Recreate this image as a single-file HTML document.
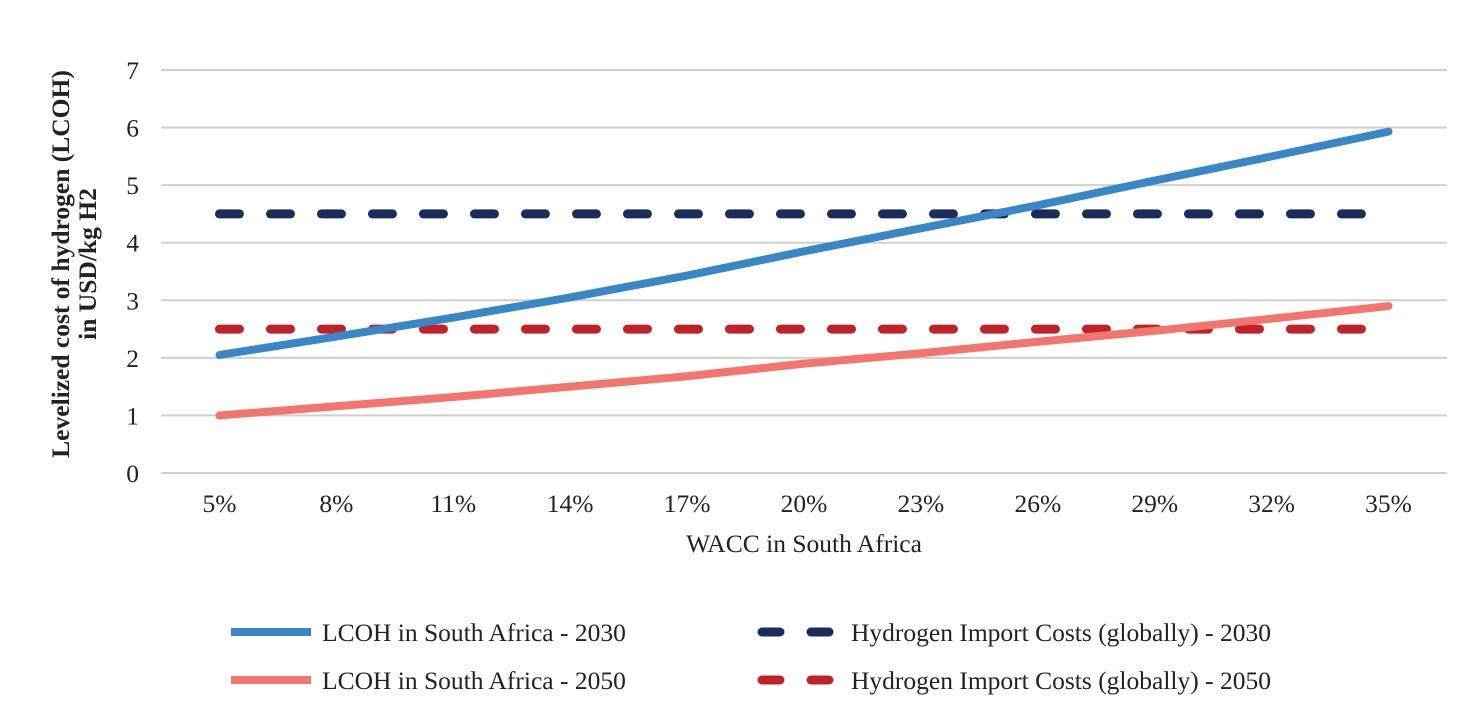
<!DOCTYPE html>
<html><head><meta charset="utf-8"><style>
html,body{margin:0;padding:0;background:#fff;}
svg text{font-family:"Liberation Serif",serif;fill:#222;}
</style></head><body>
<svg id="chart" width="1480" height="723" viewBox="0 0 1480 723">
<g id="grid"></g>
<g id="yt"></g>
<g id="xt"></g>
<g id="series"></g>
<text transform="translate(69,264) rotate(-90)" text-anchor="middle" font-size="25.5" font-weight="bold"><tspan x="0" dy="0">Levelized cost of hydrogen (LCOH)</tspan><tspan x="0" dy="27">in USD/kg H2</tspan></text>
<text x="804" y="552" text-anchor="middle" font-size="25.5">WACC in South Africa</text>
<g>
<g><line x1="231" y1="632" x2="311" y2="632" stroke="#3a87c8" stroke-width="8"/><text x="322" y="641" font-size="25.5">LCOH in South Africa - 2030</text></g>
<g><line x1="231" y1="680" x2="311" y2="680" stroke="#f2766e" stroke-width="8"/><text x="322" y="689" font-size="25.5">LCOH in South Africa - 2050</text></g>
<g><line x1="762" y1="632" x2="838" y2="632" stroke="#1a2d5a" stroke-width="9" stroke-dasharray="18 31" stroke-linecap="round"/><text x="851" y="641" font-size="25.5">Hydrogen Import Costs (globally) - 2030</text></g>
<g><line x1="762" y1="680" x2="838" y2="680" stroke="#c0222a" stroke-width="9" stroke-dasharray="18 31" stroke-linecap="round"/><text x="851" y="689" font-size="25.5">Hydrogen Import Costs (globally) - 2050</text></g>
</g>
</svg>
<script>
const categories=["5%","8%","11%","14%","17%","20%","23%","26%","29%","32%","35%"];
const yTicks=[0,1,2,3,4,5,6,7];
const lcoh2030=[2.05,2.37,2.7,3.05,3.43,3.85,4.25,4.65,5.08,5.5,5.93];
const lcoh2050=[1.0,1.16,1.32,1.5,1.68,1.9,2.08,2.28,2.47,2.68,2.9];
const import2030=[4.5,4.5,4.5,4.5,4.5,4.5,4.5,4.5,4.5,4.5,4.5];
const import2050=[2.5,2.5,2.5,2.5,2.5,2.5,2.5,2.5,2.5,2.5,2.5];
const NS="http://www.w3.org/2000/svg";
const left=161,right=1447,y0=473,y7=70;
const band=(right-left)/categories.length;
const xs=i=>left+band*(i+0.5);
const ys=v=>y0-(y0-y7)*v/7;
function mk(tag,attrs,parent){const e=document.createElementNS(NS,tag);for(const k in attrs)e.setAttribute(k,attrs[k]);parent.appendChild(e);return e;}
const grid=document.getElementById('grid'),yt=document.getElementById('yt'),xt=document.getElementById('xt'),ser=document.getElementById('series');
yTicks.forEach(v=>{
 const l=mk('line',{x1:left,x2:right,y1:ys(v),y2:ys(v),stroke:'#d0d0d0','stroke-width':2},grid);
 
 
 const t=mk('text',{x:139,y:ys(v)+9,'text-anchor':'end','font-size':25.5},yt);t.textContent=v;
 
 
});
categories.forEach((c,i)=>{
 const t=mk('text',{x:xs(i),y:512,'text-anchor':'middle','font-size':25.5},xt);t.textContent=c;
 
 
});
function series(vals,color,dashed,name){
 const d=vals.map((v,i)=>(i?'L':'M')+xs(i)+' '+ys(v)).join(' ');
 const a={d:d,fill:'none',stroke:color,'stroke-width':dashed?9:8,'stroke-linecap':'round','stroke-linejoin':'round'};
 if(dashed)a['stroke-dasharray']='20 31';
 const p=mk('path',a,ser);
 
 
}
series(import2030,'#1a2d5a',true,'line-import-2030');
series(import2050,'#c0222a',true,'line-import-2050');
series(lcoh2050,'#f2766e',false,'line-lcoh-2050');
series(lcoh2030,'#3a87c8',false,'line-lcoh-2030');
</script>
</body></html>
